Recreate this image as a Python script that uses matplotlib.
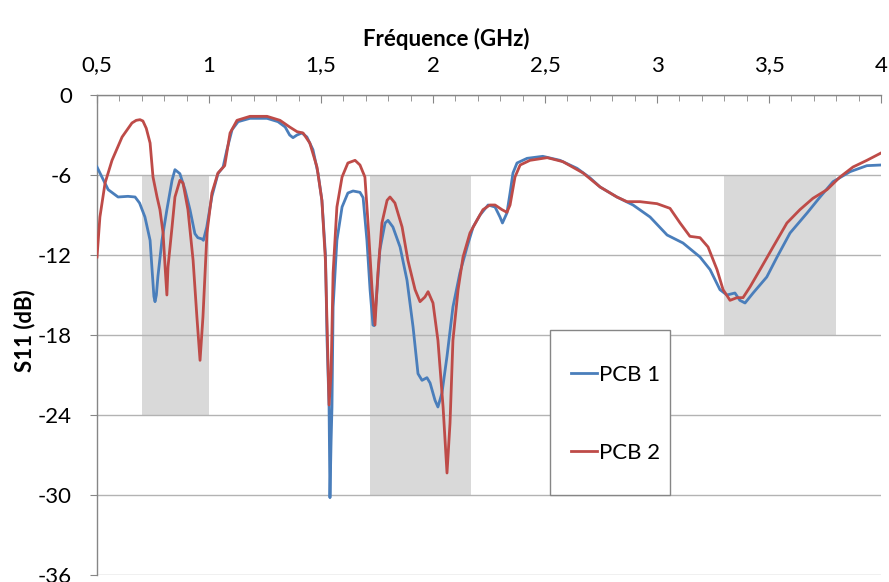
import matplotlib
matplotlib.use("Agg")
import matplotlib.pyplot as plt
from matplotlib.ticker import FuncFormatter, MultipleLocator
from matplotlib.patches import Rectangle

# ---- data ----
freq_pcb1 = [0.5, 0.55, 0.594, 0.638, 0.67, 0.69, 0.714, 0.737, 0.745, 0.754, 0.759, 0.765, 0.772, 0.79, 0.812,
             0.835, 0.848, 0.87, 0.893, 0.915, 0.937, 0.95, 0.969, 0.975, 0.99, 1.013, 1.04, 1.063, 1.08,
             1.103, 1.13, 1.183, 1.259, 1.308, 1.34, 1.36, 1.375, 1.393, 1.415, 1.437, 1.464, 1.487, 1.504,
             1.52, 1.527, 1.536, 1.540, 1.545, 1.549, 1.554, 1.571, 1.594, 1.62, 1.643, 1.674, 1.688, 1.705,
             1.719, 1.732, 1.737, 1.75, 1.763, 1.786, 1.799, 1.821, 1.853, 1.884, 1.911, 1.933, 1.951, 1.973,
             1.987, 2.009, 2.022, 2.04, 2.0625, 2.089, 2.12, 2.152, 2.179, 2.21, 2.246, 2.277, 2.299, 2.31,
             2.33, 2.344, 2.357, 2.375, 2.42, 2.49, 2.567, 2.643, 2.70, 2.746, 2.821, 2.893, 2.969, 3.045,
             3.116, 3.192, 3.237, 3.281, 3.312, 3.348, 3.37, 3.393, 3.429, 3.49, 3.536, 3.594, 3.67, 3.728,
             3.786, 3.862, 3.937, 4.0]
s11_pcb1 = [-5.4, -7.1, -7.65, -7.6, -7.65, -8.1, -9.15, -10.9, -12.9, -15.1, -15.5, -15.0, -13.6, -10.9, -8.6,
            -6.4, -5.6, -5.9, -7.1, -8.6, -10.4, -10.7, -10.8, -10.9, -9.9, -7.6, -5.9, -5.4, -4.1,
            -2.6, -2.0, -1.75, -1.75, -2.0, -2.4, -3.0, -3.2, -3.0, -2.85, -3.15, -4.1, -5.9, -7.9,
            -12.0, -18.4, -23.4, -30.2, -26.0, -23.4, -15.9, -10.9, -8.4, -7.35, -7.2, -7.3, -7.7, -10.9,
            -14.6, -17.25, -17.3, -14.6, -11.6, -9.6, -9.4, -9.9, -11.4, -13.9, -17.4, -20.9, -21.4, -21.2,
            -21.6, -22.9, -23.4, -22.35, -19.6, -15.9, -13.35, -11.4, -9.9, -9.0, -8.25, -8.4, -9.15, -9.6,
            -8.85, -7.35, -5.85, -5.1, -4.75, -4.6, -4.9, -5.5, -6.2, -6.9, -7.65, -8.25, -9.15, -10.5,
            -11.1, -12.15, -13.1, -14.6, -15.0, -14.85, -15.4, -15.6, -14.85, -13.65, -12.15, -10.35, -8.85, -7.65,
            -6.5, -5.75, -5.3, -5.25]

freq_pcb2 = [0.5, 0.513, 0.536, 0.567, 0.612, 0.656, 0.675, 0.692, 0.705, 0.72, 0.737, 0.75, 0.768, 0.781, 0.795, 0.804,
             0.812, 0.817, 0.835, 0.848, 0.87, 0.884, 0.906, 0.929, 0.946, 0.96, 0.973, 0.991, 1.013, 1.04,
             1.07, 1.094, 1.125, 1.183, 1.259, 1.317, 1.36, 1.393, 1.42, 1.45, 1.482, 1.504, 1.52, 1.536,
             1.545, 1.554, 1.571, 1.594, 1.62, 1.652, 1.674, 1.696, 1.71, 1.728, 1.741, 1.754, 1.772, 1.795,
             1.808, 1.83, 1.862, 1.888, 1.92, 1.942, 1.964, 1.978, 2.0, 2.022, 2.045, 2.0625, 2.076, 2.089,
             2.112, 2.134, 2.165, 2.196, 2.223, 2.254, 2.277, 2.308, 2.33, 2.344, 2.366, 2.389, 2.433, 2.51,
             2.58, 2.67, 2.746, 2.821, 2.866, 2.924, 3.0, 3.058, 3.103, 3.147, 3.192, 3.228, 3.268, 3.295,
             3.326, 3.357, 3.384, 3.415, 3.46, 3.518, 3.58, 3.638, 3.696, 3.759, 3.817, 3.875, 3.937, 4.0]
s11_pcb2 = [-12.15, -9.15, -6.6, -4.9, -3.15, -2.1, -1.9, -1.85, -1.95, -2.5, -3.6, -6.15, -7.65, -8.6, -10.35, -12.9,
            -15.0, -12.9, -9.9, -7.65, -6.4, -6.6, -8.6, -12.4, -16.65, -19.9, -16.65, -10.35, -7.35, -5.85,
            -5.3, -2.85, -1.9, -1.6, -1.6, -1.9, -2.4, -2.75, -2.85, -3.6, -5.4, -7.9, -12.5, -23.25,
            -20.85, -13.35, -8.4, -6.15, -5.1, -4.9, -5.25, -6.15, -9.6, -14.6, -17.25, -13.35, -9.6, -7.9,
            -7.65, -8.1, -9.9, -12.4, -14.6, -15.5, -15.15, -14.75, -15.6, -18.4, -23.4, -28.35, -24.6, -18.4,
            -14.6, -12.15, -10.35, -9.4, -8.6, -8.25, -8.25, -8.6, -8.8, -8.25, -6.15, -5.25, -4.9, -4.7,
            -5.0, -5.85, -6.9, -7.65, -8.0, -8.0, -8.15, -8.5, -9.6, -10.6, -10.7, -11.4, -13.1, -14.6,
            -15.4, -15.2, -15.2, -14.4, -13.1, -11.4, -9.6, -8.6, -7.75, -7.1, -6.15, -5.4, -4.9, -4.35]

# shaded bands: (f_start, f_stop, s11_top, s11_bottom)
band_start = [0.70, 1.72, 3.30]
band_stop = [1.00, 2.17, 3.80]
band_top = [-6, -6, -6]
band_bottom = [-24, -30, -18]

series_labels = ["PCB 1", "PCB 2"]
x_label = "Fréquence (GHz)"
y_label = "S11 (dB)"

# ---- figure ----
plt.rcParams['font.family'] = ['Lato', 'DejaVu Sans']
fig = plt.figure(figsize=(8.89, 5.82), dpi=100)
ax = fig.add_axes([97/889, 7/582, 784/889, 480/582])

for fs, fe, yt, yb in zip(band_start, band_stop, band_top, band_bottom):
    ax.fill_between([fs, fe], [yt, yt], [yb, yb], color='#d9d9d9', lw=0, zorder=0)

ax.set_xlim(0.5, 4.0)
ax.set_ylim(-36, 0)
ax.yaxis.set_major_locator(MultipleLocator(6))
ax.xaxis.set_major_locator(MultipleLocator(0.5))
ax.xaxis.set_minor_locator(MultipleLocator(0.1))
ax.grid(axis='y', color='#b3b3b3', lw=1.0, zorder=1)
ax.set_axisbelow(True)

l1, = ax.plot(freq_pcb1, s11_pcb1, color='#4a7ebb', lw=2.0, zorder=3, label=series_labels[0],
              solid_joinstyle='round')
l2, = ax.plot(freq_pcb2, s11_pcb2, color='#be4b48', lw=2.0, zorder=4, label=series_labels[1],
              solid_joinstyle='round')

ax.xaxis.tick_top()
ax.xaxis.set_label_position('top')
fmt = FuncFormatter(lambda v, p: ('%g' % v).replace('.', ','))
ax.xaxis.set_major_formatter(fmt)
ax.yaxis.set_major_formatter(FuncFormatter(lambda v, p: '%g' % v))

for s in ['right', 'bottom']:
    ax.spines[s].set_visible(False)
for s in ['left', 'top']:
    ax.spines[s].set_color('#868686')
    ax.spines[s].set_linewidth(1.0)

ax.tick_params(axis='x', which='major', direction='in', length=6, color='#868686',
               labelsize=16, pad=14)
ax.tick_params(axis='x', which='minor', direction='in', length=4, color='#868686')
ax.tick_params(axis='y', which='major', direction='out', length=5, color='#868686',
               labelsize=16, pad=13)

ax.set_xlabel(x_label, fontsize=16, fontweight='bold', labelpad=0)
ax.xaxis.set_label_coords(0.446, 1.0 + 56/480)
ax.xaxis.label.set_va('center')
ax.set_ylabel(y_label, fontsize=16, fontweight='bold')
ax.yaxis.set_label_coords(-72/784, 0.51)
ax.yaxis.label.set_va('center')

# legend box
ax.add_patch(Rectangle((0.578, 0.167), 0.153, 0.343, transform=ax.transAxes,
                       facecolor='white', edgecolor='#868686', lw=1.0, zorder=5))
leg = ax.legend(handles=[l1, l2], loc='upper left', bbox_to_anchor=(0.604, 0.438),
                frameon=False, fontsize=16, handlelength=1.2, handletextpad=0.1,
                labelspacing=2.6, borderpad=0, borderaxespad=0)
for h in leg.legend_handles:
    h.set_linewidth(2)
leg.set_zorder(6)

fig.savefig('out.png', dpi=100)
